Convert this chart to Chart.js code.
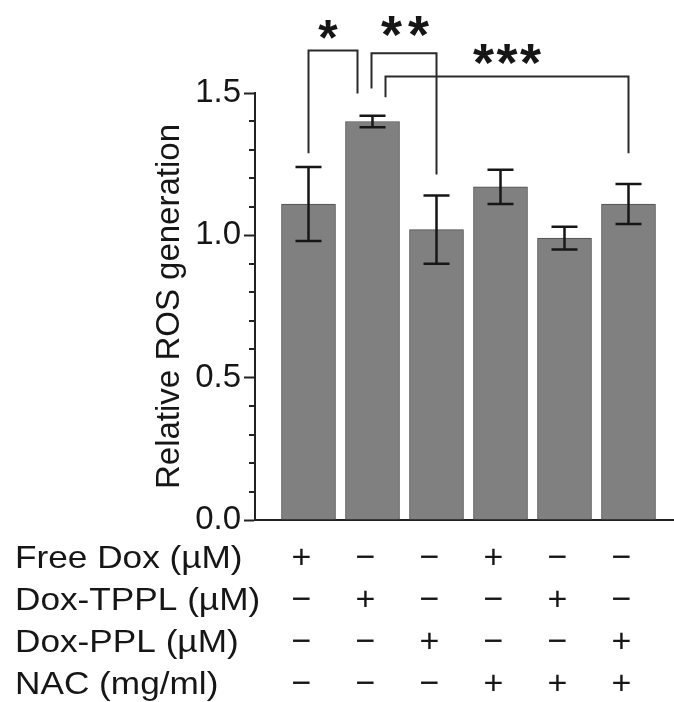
<!DOCTYPE html>
<html>
<head>
<meta charset="utf-8">
<script src="https://cdn.jsdelivr.net/npm/chart.js@4.4.1/dist/chart.umd.min.js"></script>
<style>
  html, body { margin: 0; padding: 0; background: #fff; }
  #wrap { width: 674px; height: 702px; }
</style>
</head>
<body>
<div id="wrap"><canvas id="ros-chart" width="674" height="702"></canvas></div>
<script>
// values
const rosMeans = [1.11, 1.40, 1.02, 1.17, 0.99, 1.11];
const rosErrors = [0.13, 0.02, 0.12, 0.06, 0.04, 0.07];
const yTickValues = [0, 0.5, 1.0, 1.5];

// treatment table under the bars
const rowLabels = ["Free Dox (µM)", "Dox-TPPL (µM)", "Dox-PPL (µM)", "NAC (mg/ml)"];
const freeDox = ["+", "−", "−", "+", "−", "−"];
const doxTppl = ["−", "+", "−", "−", "+", "−"];
const doxPpl = ["−", "−", "+", "−", "−", "+"];
const nac = ["−", "−", "−", "+", "+", "+"];
const tableRows = [freeDox, doxTppl, doxPpl, nac];

// significance: [from group, to group, stars]
const sigPairs = [[0, 1, 1], [1, 2, 2], [1, 5, 3]];
// bracket shape: leg offsets (px), heights (y units), star placement (px)
const bracketShape = [
  { dxL: 0, dxR: -15, top: 1.649, botL: 1.288, botR: 1.498, starX: 328, starY: 30, pitch: 0, size: 50 },
  { dxL: -1, dxR: 0, top: 1.640, botL: 1.516, botR: 1.214, starX: 405, starY: 26, pitch: 27, size: 54 },
  { dxL: 13, dxR: 0, top: 1.558, botL: 1.485, botR: 1.288, starX: 507, starY: 54, pitch: 23.5, size: 54 }
];

const FONT = "'Liberation Sans', Arial, Helvetica, sans-serif";
const INK = "#161616";

const extrasPlugin = {
  id: "extras",
  afterDraw(chart) {
    const ctx = chart.ctx;
    const xs = chart.scales.x;
    const ys = chart.scales.y;
    const meta = chart.getDatasetMeta(0);
    ctx.save();

    // minor ticks on y
    ctx.strokeStyle = "#222";
    ctx.lineWidth = 2;
    for (let k = 1; k < 15; k++) {
      if (k % 5 === 0) continue;
      const y = Math.round(ys.getPixelForValue(k / 10));
      ctx.beginPath();
      ctx.moveTo(ys.right - 6, y);
      ctx.lineTo(ys.right, y);
      ctx.stroke();
    }

    // error bars
    ctx.strokeStyle = INK;
    ctx.lineWidth = 2.5;
    meta.data.forEach((bar, i) => {
      const top = ys.getPixelForValue(rosMeans[i] + rosErrors[i]);
      const bot = ys.getPixelForValue(rosMeans[i] - rosErrors[i]);
      ctx.beginPath();
      ctx.moveTo(bar.x, top);
      ctx.lineTo(bar.x, bot);
      ctx.moveTo(bar.x - 13, top);
      ctx.lineTo(bar.x + 13, top);
      ctx.moveTo(bar.x - 13, bot);
      ctx.lineTo(bar.x + 13, bot);
      ctx.stroke();
    });

    // brackets + stars
    ctx.strokeStyle = "#2a2a2a";
    ctx.lineWidth = 2;
    ctx.fillStyle = INK;
    ctx.textAlign = "center";
    ctx.textBaseline = "alphabetic";
    sigPairs.forEach(([a, b, n], j) => {
      const s = bracketShape[j];
      const xl = xs.getPixelForValue(a + 1) + s.dxL;
      const xr = xs.getPixelForValue(b + 1) + s.dxR;
      const yt = ys.getPixelForValue(s.top);
      ctx.beginPath();
      ctx.moveTo(xl, ys.getPixelForValue(s.botL));
      ctx.lineTo(xl, yt);
      ctx.lineTo(xr, yt);
      ctx.lineTo(xr, ys.getPixelForValue(s.botR));
      ctx.stroke();
      ctx.font = "bold " + s.size + "px " + FONT;
      for (let k = 0; k < n; k++) {
        // asterisk glyph sits high: baseline ~0.5em below its centre
        ctx.fillText("*", s.starX + (k - (n - 1) / 2) * s.pitch, s.starY + s.size * 0.5);
      }
    });

    // treatment table
    ctx.textBaseline = "middle";
    rowLabels.forEach((label, r) => {
      const y = xs.top + 39 + r * 42;
      ctx.save();
      ctx.font = "32px " + FONT;
      ctx.translate(15, y);
      ctx.scale(1.1, 1);
      ctx.textAlign = "left";
      ctx.fillText(label, 0, 0);
      ctx.restore();
      ctx.font = "34px " + FONT;
      tableRows[r].forEach((sym, i) => {
        ctx.textAlign = "center";
        ctx.fillText(sym, xs.getPixelForValue(i + 1) - 7, y);
      });
    });

    ctx.restore();
  }
};

const chart = new Chart(document.getElementById("ros-chart"), {
  type: "bar",
  data: {
    datasets: [{
      data: rosMeans.map((v, i) => ({ x: i + 1, y: v })),
      backgroundColor: "#808080",
      borderColor: "#4d4d4d",
      borderWidth: 1,
      borderSkipped: false,
      barThickness: 54
    }]
  },
  options: {
    responsive: false,
    animation: false,
    devicePixelRatio: 1,
    layout: { padding: { top: 93, right: 0, bottom: 0, left: 0 } },
    plugins: { legend: { display: false }, tooltip: { enabled: false } },
    scales: {
      x: {
        type: "linear",
        offset: false,
        min: 1 - 53.5 / 64,
        max: 1 + 365.5 / 64,
        ticks: { display: false },
        grid: { display: false },
        border: { display: true, color: "#222", width: 2 },
        afterFit(scale) { scale.height = 182; }
      },
      y: {
        min: 0,
        max: 1.5,
        afterBuildTicks(scale) { scale.ticks = yTickValues.map((v) => ({ value: v })); },
        ticks: {
          padding: 3,
          color: INK,
          font: { family: FONT, size: 33 },
          callback: (v) => Number(v).toFixed(1)
        },
        grid: { drawOnChartArea: false, tickLength: 11, tickWidth: 2, tickColor: "#222" },
        border: { display: true, color: "#222", width: 2 },
        title: {
          display: true,
          text: "Relative ROS generation",
          color: INK,
          font: { family: FONT, size: 33 },
          padding: { top: 150, bottom: 0 }
        },
        afterFit(scale) { scale.width = 255; }
      }
    }
  },
  plugins: [extrasPlugin]
});
</script>
</body>
</html>
